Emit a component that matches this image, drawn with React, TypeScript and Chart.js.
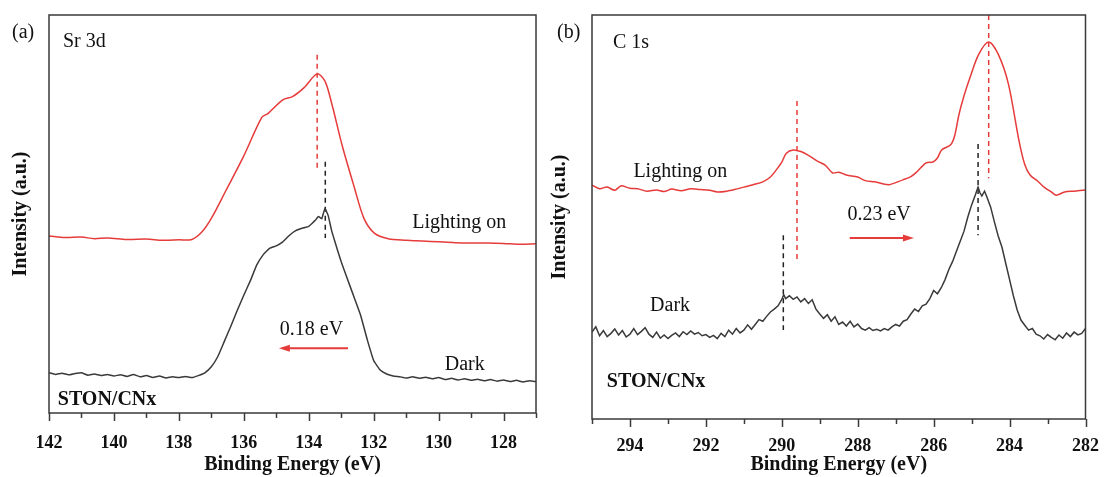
import React, { useEffect, useRef } from "react";
import { Chart, registerables } from "chart.js";

Chart.register(...registerables);

// ---------- Panel (a): Sr 3d ----------
const srRange = [127, 142];
const srLightE = [142.0, 141.5, 141.0, 140.6, 140.2, 139.6, 139.0, 138.5, 138.0, 137.6, 137.3, 137.0, 136.55, 136.0, 135.45, 135.25, 134.8, 134.5, 134.15, 133.74, 133.5, 133.29, 132.97, 132.6, 132.3, 131.98, 131.55, 131.0, 130.5, 130.0, 129.5, 129.0, 128.5, 128.0, 127.5, 127.0];
const srLightI = [44.5, 44.1, 44.2, 43.8, 44.0, 43.6, 43.7, 43.4, 43.5, 43.6, 45.4, 48.9, 55.9, 64.6, 74.2, 75.3, 78.7, 79.5, 81.7, 85.2, 83.4, 77.7, 67.2, 56.8, 48.9, 45.2, 43.8, 43.4, 43.2, 43.0, 42.8, 42.7, 42.7, 42.6, 42.4, 42.5];
const srDarkE = [142.0, 141.8, 141.6, 141.4, 141.2, 141.0, 140.8, 140.6, 140.4, 140.2, 140.0, 139.8, 139.6, 139.4, 139.2, 139.0, 138.8, 138.6, 138.4, 138.2, 138.0, 137.8, 137.6, 137.4, 137.2, 137.0, 136.8, 136.6, 136.4, 136.2, 136.0, 135.8, 135.6, 135.4, 135.2, 135.0, 134.8, 134.6, 134.4, 134.2, 134.0, 133.9, 133.8, 133.7, 133.6, 133.5, 133.4, 133.3, 133.2, 133.0, 132.8, 132.6, 132.4, 132.2, 132.0, 131.8, 131.6, 131.4, 131.2, 131.0, 130.8, 130.6, 130.4, 130.2, 130.0, 129.8, 129.6, 129.4, 129.2, 129.0, 128.8, 128.6, 128.4, 128.2, 128.0, 127.8, 127.6, 127.4, 127.2, 127.0];
const srDarkI = [10.1, 9.7, 10.0, 9.6, 9.9, 10.1, 9.5, 9.8, 9.4, 9.7, 9.3, 9.6, 9.2, 9.7, 9.1, 9.4, 8.9, 9.3, 8.8, 9.1, 8.9, 9.2, 8.9, 9.4, 10.1, 11.6, 14.2, 18.0, 21.8, 25.8, 29.6, 33.2, 37.2, 39.8, 41.4, 42.0, 43.0, 44.6, 45.8, 46.4, 46.9, 47.6, 48.4, 49.4, 48.8, 51.4, 49.6, 46.0, 43.2, 38.0, 33.5, 29.0, 24.5, 18.5, 13.2, 10.8, 9.8, 9.3, 9.1, 8.8, 9.1, 8.7, 9.0, 8.6, 8.9, 8.4, 8.7, 8.3, 8.6, 8.2, 8.5, 8.1, 8.4, 8.0, 8.3, 7.9, 8.2, 7.8, 8.1, 7.9];
// guide lines: [energy, top intensity, bottom intensity]
const srGuideLight = [133.74, 90.0, 61.6];
const srGuideDark = [133.49, 63.1, 44.0];
// shift arrow: [tail energy, head energy, intensity]
const srArrow = [132.79, 134.92, 16.3];

// ---------- Panel (b): C 1s ----------
const cRange = [282, 295];
const cLightE = [295.0, 294.8, 294.6, 294.4, 294.24, 294.0, 293.8, 293.55, 293.3, 293.1, 292.9, 292.65, 292.4, 292.15, 291.9, 291.7, 291.45, 291.2, 291.0, 290.75, 290.5, 290.3, 290.15, 290.0, 289.88, 289.7, 289.5, 289.31, 289.04, 288.85, 288.66, 288.5, 288.3, 288.0, 287.8, 287.55, 287.18, 286.81, 286.6, 286.44, 286.2, 286.02, 285.9, 285.79, 285.56, 285.45, 285.33, 285.2, 285.04, 284.81, 284.55, 284.3, 284.03, 283.75, 283.6, 283.46, 283.25, 283.09, 282.9, 282.77, 282.55, 282.3, 282.0];
const cLightI = [57.9, 57.0, 57.4, 56.6, 57.7, 57.1, 57.0, 56.4, 56.7, 56.3, 56.9, 56.5, 57.0, 56.8, 56.6, 56.2, 56.4, 56.9, 57.4, 58.0, 58.7, 59.9, 61.6, 63.6, 65.8, 66.6, 66.2, 65.3, 63.7, 62.8, 60.9, 61.1, 60.4, 59.9, 59.0, 58.7, 58.0, 59.2, 60.0, 61.2, 63.4, 63.6, 64.6, 66.6, 67.8, 70.0, 75.5, 80.0, 84.6, 90.3, 93.3, 90.3, 82.9, 68.8, 63.0, 60.4, 58.8, 57.4, 56.2, 55.4, 56.2, 56.4, 56.7];
const cDarkE = [295.0, 294.9, 294.8, 294.7, 294.6, 294.5, 294.4, 294.3, 294.2, 294.1, 294.0, 293.9, 293.8, 293.7, 293.6, 293.5, 293.4, 293.3, 293.2, 293.1, 293.0, 292.9, 292.8, 292.7, 292.6, 292.5, 292.4, 292.3, 292.2, 292.1, 292.0, 291.9, 291.8, 291.7, 291.6, 291.5, 291.4, 291.3, 291.2, 291.1, 291.0, 290.9, 290.8, 290.7, 290.6, 290.5, 290.4, 290.3, 290.2, 290.1, 290.0, 289.95, 289.9, 289.8, 289.7, 289.6, 289.5, 289.4, 289.3, 289.2, 289.1, 289.0, 288.9, 288.8, 288.7, 288.6, 288.5, 288.4, 288.3, 288.2, 288.1, 288.0, 287.9, 287.8, 287.7, 287.6, 287.5, 287.4, 287.3, 287.2, 287.1, 287.0, 286.9, 286.8, 286.7, 286.6, 286.5, 286.4, 286.3, 286.2, 286.1, 286.0, 285.9, 285.8, 285.7, 285.6, 285.5, 285.4, 285.3, 285.2, 285.1, 285.0, 284.9, 284.83, 284.78, 284.73, 284.66, 284.6, 284.5, 284.4, 284.3, 284.2, 284.1, 284.0, 283.9, 283.8, 283.7, 283.6, 283.5, 283.4, 283.3, 283.2, 283.1, 283.0, 282.9, 282.8, 282.7, 282.6, 282.5, 282.4, 282.3, 282.2, 282.1, 282.0];
const cDarkI = [21.5, 22.8, 20.6, 21.9, 20.4, 21.2, 22.3, 20.8, 21.9, 20.3, 21.0, 22.4, 20.9, 21.7, 22.6, 21.0, 20.2, 21.5, 20.0, 20.8, 19.9, 20.7, 21.3, 20.4, 21.6, 20.9, 21.8, 21.0, 21.4, 20.6, 20.9, 20.2, 20.7, 19.9, 21.2, 20.4, 22.0, 21.0, 22.4, 21.3, 22.0, 23.3, 22.2, 23.4, 24.6, 24.2, 25.4, 26.5, 27.2, 28.0, 29.6, 30.8, 29.8, 30.5, 29.6, 30.2, 29.0, 29.8, 28.6, 29.5, 27.2, 26.0, 24.9, 25.8, 24.2, 25.3, 23.4, 24.0, 23.0, 24.2, 22.8, 23.5, 22.4, 22.0, 22.6, 21.9, 22.2, 21.8, 22.4, 22.0, 22.8, 23.4, 23.0, 24.2, 24.6, 26.0, 27.2, 26.6, 28.0, 28.4, 29.8, 31.8, 31.0, 32.5, 34.5, 37.0, 39.0, 41.5, 44.0, 46.5, 50.0, 53.0, 55.5, 57.4, 56.0, 55.2, 56.4, 55.0, 52.5, 48.8, 45.3, 42.5, 38.5, 34.5, 30.5, 27.0, 24.5, 23.2, 22.0, 22.4, 21.0, 20.6, 19.8, 20.9, 20.2, 19.6, 20.8, 20.0, 21.3, 20.4, 21.5, 20.8, 21.2, 22.4];
const cGuideLight1 = [289.6, 78.7, 38.9];
const cGuideLight2 = [284.55, 100, 59.6];
const cGuideDark1 = [284.83, 68.1, 45.5];
const cGuideDark2 = [289.96, 45.5, 22.0];
const cArrow = [288.21, 286.52, 44.8];

const RED = "#e63b3b";
const DARK = "#3a3a3a";
const FONT = "'Liberation Serif', 'Times New Roman', serif";

const pts = (xs: number[], ys: number[]) => xs.map((x, i) => ({ x, y: ys[i] }));
const guide = (g: number[]) => [{ x: g[0], y: g[1] }, { x: g[0], y: g[2] }];

const decorPlugin = {
  id: "decor",
  afterDatasetsDraw(chart: any, _args: any, opts: any) {
    const { ctx, chartArea, scales } = chart;
    const x = scales.x;
    const y = scales.y;
    ctx.save();
    // ticks (major at even values, minor at odd)
    ctx.strokeStyle = DARK;
    ctx.lineWidth = 1.5;
    for (let v = opts.range[0]; v <= opts.range[1]; v++) {
      const px = Math.round(x.getPixelForValue(v)) + 0.5;
      const len = v % 2 === 0 ? 8 : 5;
      ctx.beginPath();
      ctx.moveTo(px, chartArea.bottom);
      ctx.lineTo(px, chartArea.bottom + len);
      ctx.stroke();
    }
    // frame
    ctx.strokeRect(chartArea.left, chartArea.top, chartArea.right - chartArea.left, chartArea.bottom - chartArea.top);
    // texts
    ctx.fillStyle = "#111";
    ctx.textBaseline = "middle";
    ctx.textAlign = "left";
    for (const t of opts.texts) {
      ctx.font = `${t.bold ? "bold " : ""}20px ${FONT}`;
      ctx.fillText(t.text, x.getPixelForValue(t.e), y.getPixelForValue(t.v));
    }
    ctx.font = `20px ${FONT}`;
    ctx.fillText(opts.panel, chartArea.left + opts.panelDx, 33);
    // arrow
    const a = opts.arrow;
    const x1 = x.getPixelForValue(a[0]);
    const x2 = x.getPixelForValue(a[1]);
    const yy = y.getPixelForValue(a[2]);
    const dir = x2 > x1 ? 1 : -1;
    ctx.strokeStyle = RED;
    ctx.fillStyle = RED;
    ctx.lineWidth = 2;
    ctx.beginPath();
    ctx.moveTo(x1, yy);
    ctx.lineTo(x2 - dir * 9, yy);
    ctx.stroke();
    ctx.beginPath();
    ctx.moveTo(x2, yy);
    ctx.lineTo(x2 - dir * 11, yy - 3.5);
    ctx.lineTo(x2 - dir * 11, yy + 3.5);
    ctx.closePath();
    ctx.fill();
    ctx.restore();
  },
};

type PanelCfg = {
  range: number[];
  datasets: any[];
  texts: any[];
  arrow: number[];
  panel: string;
  panelDx: number;
  yWidth: number;
  xHeight: number;
  tickPad: number;
  yTitlePad: number;
  padRight: number;
};

function makeConfig(p: PanelCfg): any {
  return {
    type: "line",
    data: { datasets: p.datasets },
    plugins: [decorPlugin],
    options: {
      animation: false,
      responsive: false,
      maintainAspectRatio: false,
      devicePixelRatio: 1,
      layout: { padding: { top: 15, right: p.padRight, left: 0, bottom: 0 } },
      plugins: {
        legend: { display: false },
        tooltip: { enabled: false },
        decor: { range: p.range, texts: p.texts, arrow: p.arrow, panel: p.panel, panelDx: p.panelDx },
      },
      elements: { point: { radius: 0 } },
      scales: {
        x: {
          type: "linear",
          min: p.range[0],
          max: p.range[1],
          reverse: true,
          grid: { display: false },
          border: { display: false },
          ticks: {
            stepSize: 1,
            autoSkip: false,
            maxRotation: 0,
            padding: p.tickPad,
            color: "#111",
            font: { family: FONT, size: 18, weight: "bold" },
            callback: (v: any) => (Number(v) % 2 === 0 ? String(v) : ""),
          },
          title: {
            display: true,
            text: "Binding Energy (eV)",
            color: "#111",
            padding: { top: 0, bottom: 0 },
            font: { family: FONT, size: 20, weight: "bold" },
          },
          afterFit: (s: any) => {
            s.height = p.xHeight;
          },
        },
        y: {
          type: "linear",
          min: 0,
          max: 100,
          grid: { display: false },
          border: { display: false },
          ticks: { display: false },
          title: {
            display: true,
            text: "Intensity (a.u.)",
            color: "#111",
            padding: { top: p.yTitlePad, bottom: 0 },
            font: { family: FONT, size: 20, weight: "bold" },
          },
          afterFit: (s: any) => {
            s.width = p.yWidth;
          },
        },
      },
    },
  };
}

const lineDs = (data: any[], color: string, tension: number) => ({
  data,
  borderColor: color,
  borderWidth: 1.5,
  pointRadius: 0,
  tension,
  fill: false,
});
const dashDs = (data: any[], color: string) => ({
  data,
  borderColor: color,
  borderWidth: 1.5,
  borderDash: [5, 4],
  pointRadius: 0,
  fill: false,
});

function Panel({ cfg, width, left }: { cfg: PanelCfg; width: number; left: number }) {
  const ref = useRef<HTMLCanvasElement | null>(null);
  useEffect(() => {
    if (!ref.current) return;
    const chart = new Chart(ref.current, makeConfig(cfg));
    return () => chart.destroy();
  }, []);
  return (
    <canvas
      ref={ref}
      width={width}
      height={477}
      style={{ position: "absolute", left, top: 0, width, height: 477 }}
    />
  );
}

const panelA: PanelCfg = {
  range: srRange,
  datasets: [
    lineDs(pts(srLightE, srLightI), RED, 0.3),
    lineDs(pts(srDarkE, srDarkI), DARK, 0.1),
    dashDs(guide(srGuideLight), RED),
    dashDs(guide(srGuideDark), "#222"),
  ],
  texts: [
    { text: "Sr 3d", e: 141.57, v: 93.2 },
    { text: "Lighting on", e: 130.81, v: 47.7 },
    { text: "0.18 eV", e: 134.89, v: 20.9 },
    { text: "Dark", e: 129.81, v: 12.1 },
    { text: "STON/CNx", e: 141.73, v: 3.3, bold: true },
  ],
  arrow: srArrow,
  panel: "(a)",
  panelDx: -37,
  yWidth: 49,
  xHeight: 64,
  tickPad: 12,
  yTitlePad: 9,
  padRight: 5,
};

const panelB: PanelCfg = {
  range: cRange,
  datasets: [
    lineDs(pts(cLightE, cLightI), RED, 0.3),
    lineDs(pts(cDarkE, cDarkI), DARK, 0),
    dashDs(guide(cGuideLight1), RED),
    dashDs(guide(cGuideLight2), RED),
    dashDs(guide(cGuideDark1), "#222"),
    dashDs(guide(cGuideDark2), "#222"),
  ],
  texts: [
    { text: "C 1s", e: 294.45, v: 93.1 },
    { text: "Lighting on", e: 293.91, v: 61.1 },
    { text: "0.23 eV", e: 288.27, v: 50.5 },
    { text: "Dark", e: 293.47, v: 28.0 },
    { text: "STON/CNx", e: 294.61, v: 9.2, bold: true },
  ],
  arrow: cArrow,
  panel: "(b)",
  panelDx: -35,
  yWidth: 44,
  xHeight: 58,
  tickPad: 9,
  yTitlePad: 0,
  padRight: 16,
};

export default function App() {
  return (
    <div style={{ position: "absolute", left: 0, top: 0, width: 1108, height: 477, background: "#fff" }}>
      <Panel cfg={panelA} width={548} left={0} />
      <Panel cfg={panelB} width={560} left={548} />
    </div>
  );
}
